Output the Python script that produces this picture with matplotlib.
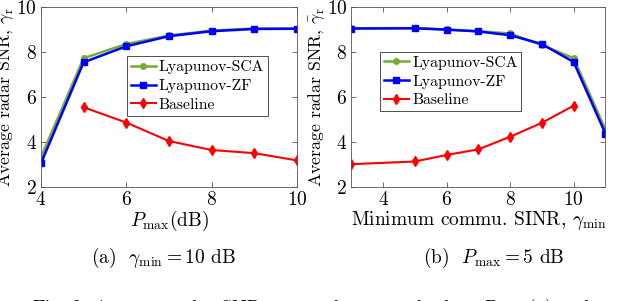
import matplotlib
matplotlib.use("Agg")
import matplotlib.pyplot as plt

plt.rcParams["font.family"] = "serif"
plt.rcParams["font.serif"] = ["cmr10", "DejaVu Serif"]
plt.rcParams["mathtext.fontset"] = "cm"
plt.rcParams["axes.formatter.use_mathtext"] = True

# (a) gamma_min = 10 dB, x = P_max (dB)
p_max = [4, 5, 6, 7, 8, 9, 10]
sca_a = [3.32, 7.72, 8.35, 8.73, 8.95, 9.04, 9.04]
zf_a = [3.05, 7.54, 8.25, 8.70, 8.92, 9.02, 9.03]
p_max_base = [5, 6, 7, 8, 9, 10]
base_a = [5.54, 4.86, 4.04, 3.64, 3.50, 3.18]

# (b) P_max = 5 dB, x = gamma_min
gamma_min = [3, 5, 6, 7, 8, 9, 10, 11]
sca_b = [9.05, 9.06, 9.00, 8.92, 8.82, 8.30, 7.72, 4.55]
zf_b = [9.04, 9.05, 8.99, 8.91, 8.74, 8.35, 7.55, 4.37]
gamma_base = [3, 5, 6, 7, 8, 9, 10]
base_b = [3.01, 3.13, 3.42, 3.67, 4.23, 4.85, 5.61]

labels = ["Lyapunov-SCA", "Lyapunov-ZF", "Baseline"]
green = "#77AC30"
blue = "#0000FF"
red = "#FF0000"
axis_grey = "#555555"
fs = 14

fig = plt.figure(figsize=(6.4, 3.01), dpi=100)
ax1 = fig.add_axes([0.064, 0.379, 0.400, 0.598])
ax2 = fig.add_axes([0.549, 0.379, 0.397, 0.598])


def draw(ax, x, sca, zf, xb, base):
    ax.plot(x, sca, color=green, lw=1.8, marker="o", ms=4, mfc=green, mec=green, label=labels[0])
    ax.plot(x, zf, color=blue, lw=1.8, marker="s", ms=4, mfc=blue, mec=blue, label=labels[1])
    ax.plot(xb, base, color=red, lw=1.5, marker="d", ms=5, mfc=red, mec=red, label=labels[2])
    ax.set_ylim(2, 10)
    ax.set_yticks([2, 4, 6, 8, 10])
    ax.tick_params(direction="in", top=True, right=True, labelsize=fs,
                   color=axis_grey, length=3.5, width=0.6, pad=3)
    for s in ax.spines.values():
        s.set_color(axis_grey)
        s.set_linewidth(0.6)
    ax.set_ylabel(r"Average radar SNR, $\bar{\gamma}_{\rm r}$", fontsize=12.8, labelpad=0)


def add_legend(ax, anchor):
    leg = ax.legend(loc="upper left", bbox_to_anchor=anchor, fontsize=11.3,
                    handlelength=1.6, handletextpad=0.2, borderpad=0.25, labelspacing=0.3,
                    borderaxespad=0, frameon=True, fancybox=False, edgecolor="#333333",
                    framealpha=1)
    leg.get_frame().set_linewidth(0.6)


draw(ax1, p_max, sca_a, zf_a, p_max_base, base_a)
ax1.set_xlim(4, 10)
ax1.set_xticks([4, 6, 8, 10])
ax1.set_xlabel(r"$P_{\max}$(dB)", fontsize=fs, labelpad=0)
add_legend(ax1, (0.335, 0.725))

draw(ax2, gamma_min, sca_b, zf_b, gamma_base, base_b)
ax2.set_xlim(3, 11)
ax2.set_xticks([4, 6, 8, 10])
ax2.set_xlabel(r"Minimum commu. SINR, $\gamma_{\min}$", fontsize=fs, labelpad=0)
add_legend(ax2, (0.112, 0.75))

fig.text(0.255, 0.143, r"(a)  $\gamma_{\min} = 10$ dB", ha="center", va="center", fontsize=fs)
fig.text(0.772, 0.143, r"(b)  $P_{\max} = 5$ dB", ha="center", va="center", fontsize=fs)
fig.text(0.05, -0.042, r"Fig. 2: Average radar SNR versus the power budget $P_{\max}$ (a) and",
         ha="left", va="baseline", fontsize=fs)

fig.savefig("out.png", dpi=100)
